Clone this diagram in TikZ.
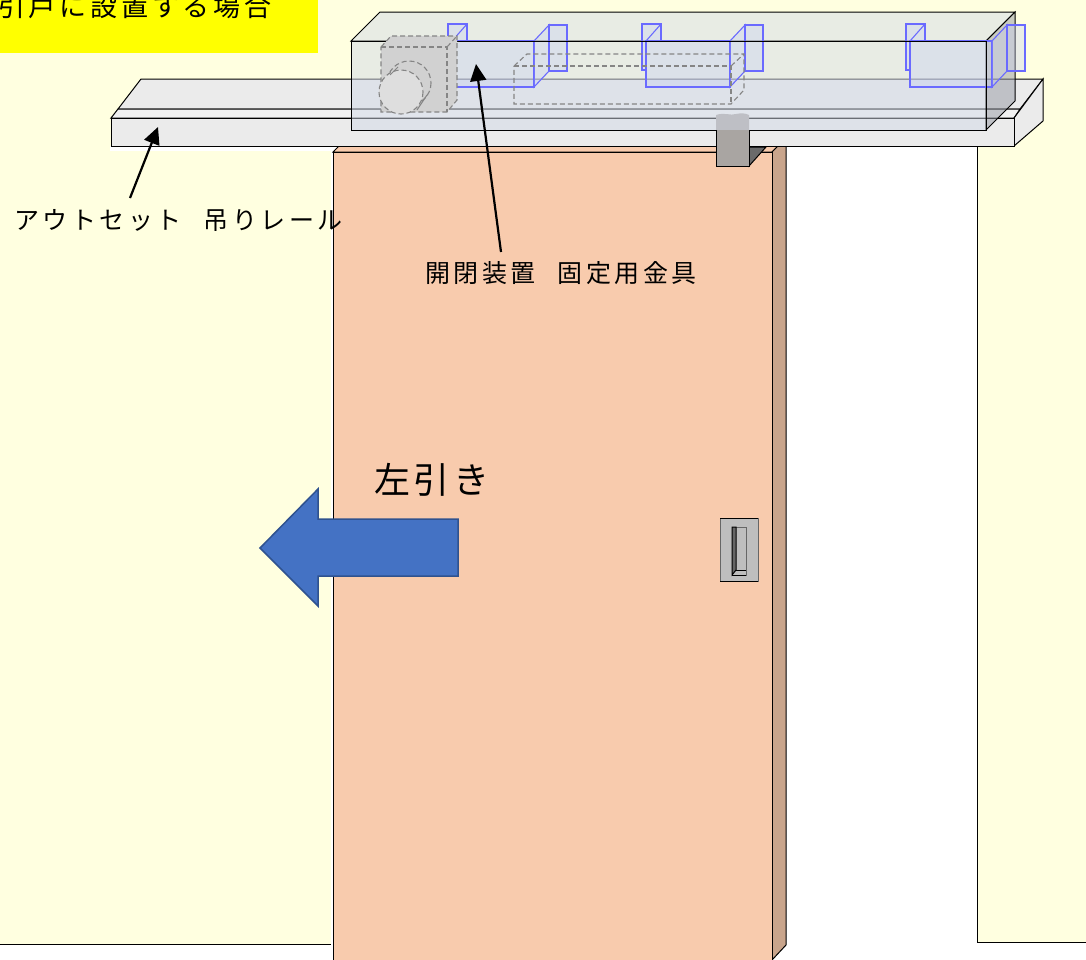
\documentclass[tikz,border=0pt]{standalone}
\usepackage{fontspec}
\newfontfamily\cjk[LetterSpace=14]{Noto Sans CJK JP}
\newfontfamily\cjkwide[LetterSpace=10]{Noto Sans CJK JP}
\usetikzlibrary{arrows.meta}
\definecolor{wallcol}{HTML}{FFFFE0}
\definecolor{titlecol}{HTML}{FFFF00}
\definecolor{doorcol}{HTML}{F8CBAD}
\definecolor{doorside}{HTML}{C9A58C}
\definecolor{railcol}{HTML}{EBEBEB}
\definecolor{hangercol}{HTML}{A9A5A2}
\definecolor{platecol}{HTML}{BEBEBE}
\definecolor{coverblue}{HTML}{D3DAE8}
\definecolor{bracketline}{HTML}{6A6AFF}
\definecolor{bracketfill}{HTML}{C4CDF4}
\definecolor{hiddenline}{HTML}{858585}
\definecolor{arrowblue}{HTML}{4472C4}
\definecolor{arrowline}{HTML}{2F528F}
\tikzset{
  edge/.style={line width=1pt, draw=black},
  railface/.style={edge, fill=railcol},
  doorface/.style={edge, fill=doorcol},
  coverface/.style={fill=coverblue, fill opacity=0.5, draw=black, draw opacity=1, line width=1pt},
  bracket/.style={draw=bracketline, line width=1.1pt, fill=bracketfill, fill opacity=0.35},
  hidden/.style={draw=hiddenline, dash pattern=on 5pt off 3pt, line width=1.1pt},
  leader/.style={line width=2.2pt, -{Triangle[length=17pt,width=16pt]}},
  caption/.style={inner sep=0pt, anchor=west, font=\cjk\fontsize{25}{25}\selectfont}
}
\begin{document}
\begin{tikzpicture}[x=1pt,y=-1pt]
    \useasboundingbox (0,0) rectangle (1086,959);

    % walls
    \fill[wallcol] (0,0) rectangle (1086,147);
    \fill[wallcol] (0,147) rectangle (331,944);
    \fill[wallcol] (977,147) rectangle (1086,942);
    \fill[white] (110,146) rectangle (333,151);
    \draw[edge] (0,944) -- (331,944);
    \draw[edge] (977,147) -- (977,942) -- (1086,942);
    \fill[titlecol] (0,0) rectangle (318,53);

    % door
    \filldraw[doorface] (333,152) -- (347,138) -- (786,138) -- (772,152) -- cycle;
    \filldraw[edge, fill=doorside] (772,152) -- (786,138) -- (786,945) -- (772,960) -- cycle;
    \filldraw[doorface] (333,152) rectangle (772,966);

    % rail
    \filldraw[railface] (141,79) -- (1043,79) -- (1020,109) -- (118,109) -- cycle;
    \filldraw[edge, fill=railcol!70!white] (118,109) -- (1020,109) -- (1014,118) -- (111,118) -- cycle;
    \filldraw[railface] (1014,118) -- (1043,79) -- (1043,121) -- (1014,146) -- cycle;
    \filldraw[railface] (111,118) rectangle (1014,146);

    % hanger, top part sits behind the cover
    \fill[hangercol] (716,115) .. controls (725,112) and (730,116) .. (736,114) .. controls (741,113) and (745,113) .. (749,115) -- (749,131) -- (716,131) -- cycle;

    % cover
    \filldraw[coverface] (351,41) -- (380,12) -- (1015,12) -- (986,41) -- cycle;
    \filldraw[coverface] (351,41) rectangle (986,130);
    \filldraw[coverface, fill=black!30!coverblue] (986,41) -- (1015,12) -- (1015,101) -- (986,130) -- cycle;

    % brackets
    \foreach \a/\b in {452/534, 646/730, 910/992} {
      \filldraw[bracket] (\a-4,24) -- (\a+15,24) -- (\a+15,41) -- (\a,41) -- (\a,70) -- (\a-4,70) -- cycle;
      \draw[bracket, fill=none] (\a+15,24) -- (\a,41);
      \filldraw[bracket] (\a,41) rectangle (\b,87);
      \filldraw[bracket] (\b,41) -- (\b+15,25) -- (\b+15,71) -- (\b,87) -- cycle;
      \filldraw[bracket] (\b+15,25) rectangle (\b+33,71);
    }
    \draw[edge] (351,41) -- (986,41) -- (986,130);

    % hanger, front part
    \filldraw[edge, fill=black!55!railcol] (749,147) -- (766,147) -- (749,166) -- cycle;
    \fill[hangercol] (716,130) rectangle (749,166);
    \draw[edge] (716,130) -- (716,166) -- (749,166) -- (749,130);

    % motor, hidden lines
    \filldraw[hidden, fill=black!18!white] (381,47) -- (391,36) -- (457,36) -- (457,100) -- (447,112) -- (381,112) -- cycle;
    \draw[hidden] (381,47) -- (447,47) -- (447,112);
    \draw[hidden] (447,47) -- (457,36);
    \draw[hidden] (409,83) circle[radius=22];
    \filldraw[hidden, fill=black!13!white] (401,92) circle[radius=22];
    \draw[draw=hiddenline, line width=1pt] (390,75) -- (398,67);
    \draw[draw=hiddenline, line width=1pt] (417,110) -- (427,95);

    % long box, hidden lines
    \draw[hidden] (514,66) -- (527,54) -- (744,54) -- (744,90) -- (731,104) -- (514,104) -- cycle;
    \draw[hidden] (514,66) -- (731,66) -- (731,104);
    \draw[hidden] (731,66) -- (744,54);

    % door handle
    \fill[platecol] (720,518) rectangle (758,581);
    \draw[edge, draw=black!60] (720,518) rectangle (758,581);
    \draw[edge] (720,518) -- (758,518);
    \draw[edge] (720,581) -- (758,581);
    \draw[edge, draw=black!60] (732,527) rectangle (746,575);
    \filldraw[edge, fill=black!60] (732,527) -- (736,527) -- (736,570) -- (732,575) -- cycle;
    \draw[edge] (736,570) -- (746,570);
    \draw[edge] (732,575) -- (746,575);

    % direction arrow
    \filldraw[
      line width=1.5pt,
      draw=arrowline,
      fill=arrowblue
    ] (260,548) -- (318,489) -- (318,519) -- (458,519) -- (458,576) -- (318,576) -- (318,606) -- cycle;

    % labels
    \node[caption, font=\cjk\fontsize{27}{27}\selectfont] (titlelabel) at (-2,6) {引戸に設置する場合};
    \node[caption] (raillabel) at (14,220) {アウトセット\hspace{13pt} 吊りレール};
    \node[caption] (bracketlabel) at (425,273) {開閉装置\hspace{13pt} 固定用金具};
    \node[caption, font=\cjkwide\fontsize{36}{36}\selectfont] (pulllabel) at (374,480) {左引き};

    % leaders
    \coordinate (railtail) at (130,198);
    \coordinate (railtip) at (158,127);
    \coordinate (brackettail) at (501,252);
    \coordinate (brackettip) at (476,64);
    \draw[leader] (railtail) -- (railtip);
    \draw[leader] (brackettail) -- (brackettip);
\end{tikzpicture}
\end{document}
